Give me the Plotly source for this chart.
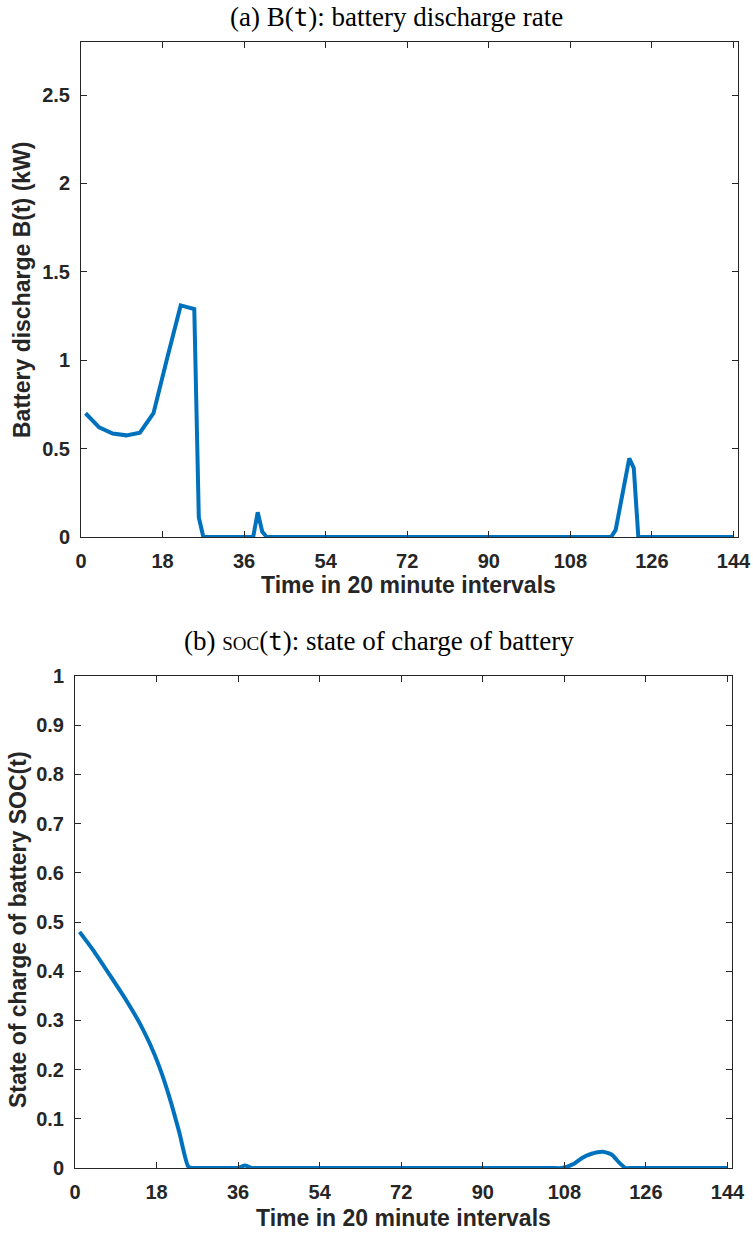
import plotly.graph_objects as go

# ---- data ----
t_b = [1, 4, 7, 10, 13, 16, 19, 22, 25, 26, 27, 38, 39, 40, 41, 117, 118, 121, 122, 123, 144]
b_vals = [0.70, 0.62, 0.585, 0.575, 0.59, 0.70, 1.01, 1.31, 1.29, 0.11, 0.0,
          0.0, 0.14, 0.03, 0.0, 0.0, 0.04, 0.445, 0.39, 0.0, 0.0]

t_soc = [1, 4, 7.7, 11.3, 14.3, 16.5, 18.6, 20.8, 23, 25, 26, 28, 34, 36, 37.5, 39, 41, 105,
         107.5, 110, 112, 114, 116.5, 118.5, 120, 121.5, 123, 126, 144]
soc_vals = [0.48, 0.443, 0.392, 0.341, 0.294, 0.253, 0.206, 0.145, 0.073, 0.003, 0.0, 0.0, 0.0,
            0.0, 0.005, 0.0, 0.0, 0.0,
            0.0, 0.008, 0.021, 0.029, 0.033, 0.027, 0.012, 0.0, 0.0, 0.0, 0.0]

x_ticks = [0, 18, 36, 54, 72, 90, 108, 126, 144]
yb_ticks = [0, 0.5, 1, 1.5, 2, 2.5]
yb_labels = ["0", "0.5", "1", "1.5", "2", "2.5"]
ys_ticks = [0, 0.1, 0.2, 0.3, 0.4, 0.5, 0.6, 0.7, 0.8, 0.9, 1]
ys_labels = ["0", "0.1", "0.2", "0.3", "0.4", "0.5", "0.6", "0.7", "0.8", "0.9", "1"]

W, H = 753, 1234
BLUE = "#0072BD"
AX = "#262626"
SANS = "Liberation Sans"
SERIF = "Liberation Serif"
TICK_SIZE = 20
LABEL_SIZE = 23
TITLE_SIZE = 27

fig = go.Figure()
fig.add_trace(go.Scatter(x=t_b, y=b_vals, mode="lines", line=dict(color=BLUE, width=4),
                         xaxis="x", yaxis="y", showlegend=False))
fig.add_trace(go.Scatter(x=t_soc, y=soc_vals, mode="lines",
                         line=dict(color=BLUE, width=4, shape="spline", smoothing=0.6),
                         xaxis="x2", yaxis="y2", showlegend=False))

def px_x(p):
    return p / W

def px_y(p):
    return 1 - p / H

common_axis = dict(showline=True, linecolor=AX, linewidth=1, mirror="ticks",
                   ticks="inside", ticklen=6, tickcolor=AX, tickwidth=1,
                   showgrid=False, zeroline=False, automargin=False,
                   tickfont=dict(family=SANS, size=TICK_SIZE, color=AX))

fig.update_layout(
    width=W, height=H,
    margin=dict(l=0, r=0, t=0, b=0),
    paper_bgcolor="white", plot_bgcolor="white",
    xaxis=dict(domain=[px_x(81), px_x(738)], range=[0, 145], tickvals=x_ticks,
               anchor="y", ticklabelstandoff=6, **common_axis),
    yaxis=dict(domain=[px_y(537), px_y(42)], range=[0, 2.8], tickvals=yb_ticks,
               ticktext=["<b>%s</b>" % s for s in yb_labels], anchor="x",
               ticklabelstandoff=6, **common_axis),
    xaxis2=dict(domain=[px_x(75), px_x(732)], range=[0, 145], tickvals=x_ticks,
                anchor="y2", ticklabelstandoff=6, **common_axis),
    yaxis2=dict(domain=[px_y(1168), px_y(676)], range=[0, 1], tickvals=ys_ticks,
                ticktext=["<b>%s</b>" % s for s in ys_labels], anchor="x2",
                ticklabelstandoff=6, **common_axis),
)
fig.update_xaxes(ticktext=["<b>%d</b>" % v for v in x_ticks])

lab_font = dict(family=SANS, size=LABEL_SIZE, color=AX)
# axis titles
fig.add_annotation(text="<b>Time in 20 minute intervals</b>", x=px_x(409), y=px_y(585),
                   xref="paper", yref="paper", showarrow=False, xanchor="center",
                   yanchor="middle", font=lab_font)
fig.add_annotation(text="<b>Battery discharge B(t) (kW)</b>", x=px_x(22), y=px_y(290),
                   xref="paper", yref="paper", showarrow=False, xanchor="center",
                   yanchor="middle", textangle=-90, font=lab_font)
fig.add_annotation(text="<b>Time in 20 minute intervals</b>", x=px_x(403), y=px_y(1218),
                   xref="paper", yref="paper", showarrow=False, xanchor="center",
                   yanchor="middle", font=lab_font)
fig.add_annotation(text="<b>State of charge of battery SOC(t)</b>", x=px_x(18), y=px_y(930),
                   xref="paper", yref="paper", showarrow=False, xanchor="center",
                   yanchor="middle", textangle=-90, font=lab_font)

# panel titles
fig.add_annotation(text="(a) B(<span style='font-family:DejaVu Sans Mono;font-size:24px'>t</span>): battery discharge rate",
                   x=px_x(396), y=px_y(17), xref="paper", yref="paper", showarrow=False,
                   xanchor="center", yanchor="middle",
                   font=dict(family=SERIF, size=TITLE_SIZE, color="black"))
fig.add_annotation(text="(b) <span style='font-size:19px'>SOC</span>(<span style='font-family:DejaVu Sans Mono;font-size:24px'>t</span>): state of charge of battery",
                   x=px_x(379), y=px_y(641), xref="paper", yref="paper", showarrow=False,
                   xanchor="center", yanchor="middle",
                   font=dict(family=SERIF, size=TITLE_SIZE, color="black"))

fig.write_html("out.html", config={"displayModeBar": False},
               post_script="document.body.style.margin='0';document.body.style.overflow='hidden';")
